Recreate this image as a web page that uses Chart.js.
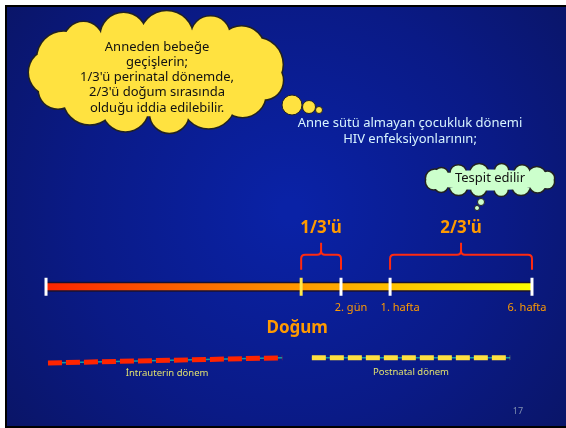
<!DOCTYPE html>
<html>
<head>
<meta charset="utf-8">
<script src="https://cdn.jsdelivr.net/npm/chart.js@4.4.0/dist/chart.umd.min.js"></script>
<style>
  html, body { margin: 0; padding: 0; background: #fff; }
  canvas { display: block; }
</style>
</head>
<body>
<canvas id="slide" width="566" height="428"></canvas>
<script>
// Timeline of mother-to-child HIV transmission (0 = start, 100 = 6. hafta)

const tickPositions = [0, 52.5, 60.7, 70.8, 100]
const tickLabels = ['', '', '2. gün', '1. hafta', '6. hafta']
const birthPosition = 52.5
const birthLabel = 'Doğum'
const shareLabels = ["1/3'ü", "2/3'ü"]
const shareRanges = [[52.5, 60.7], [70.8, 100]]
const periodLabels = ['İntrauterin dönem', 'Postnatal dönem']
const intrauterinX = [0.4, 48.6]
const intrauterinY = [15.2, 16.4]
const postnatalX = [54.7, 95.5]
const postnatalY = [16.4, 16.4]
const timelineY = 33

const cloudLines = ['Anneden bebeğe', 'geçişlerin;', "1/3'ü perinatal dönemde,", "2/3'ü doğum sırasında", 'olduğu iddia edilebilir.']
const noteLines = ['Anne sütü almayan çocukluk dönemi', 'HIV enfeksiyonlarının;']
const smallCloudText = 'Tespit edilir'
const pageNumber = '17'

const FONT = "'Comic Sans MS', 'Noto Sans', sans-serif"
const ORANGE = '#ff9a00'

const toPoints = (xs, ys) => xs.map((x, i) => ({x, y: ys[i]}))

const cloud = (c, cx, cy, rx, ry, bumps, br, fill, stroke) => {
    const circles = []
    for (let i = 0; i < bumps; i++) {
        const a = i / bumps * Math.PI * 2 + 0.2
        const r = br * (0.8 + 0.15 * (i % 3))
        circles.push([cx + Math.cos(a) * (rx - r), cy + Math.sin(a) * (ry - r)])
        circles[i].push(r)
    }
    c.lineWidth = 3
    c.strokeStyle = stroke
    circles.forEach(([x, y, r]) => { c.beginPath(); c.arc(x, y, r, 0, Math.PI * 2); c.stroke() })
    c.fillStyle = fill
    c.beginPath()
    c.ellipse(cx, cy, rx - br * 0.7, ry - br * 0.7, 0, 0, Math.PI * 2)
    circles.forEach(([x, y, r]) => { c.moveTo(x + r, y); c.arc(x, y, r, 0, Math.PI * 2) })
    c.fill()
}

const bubble = (c, x, y, r, fill, stroke) => {
    c.beginPath()
    c.arc(x, y, r, 0, Math.PI * 2)
    c.fillStyle = fill
    c.fill()
    c.lineWidth = 1
    c.strokeStyle = stroke
    c.stroke()
}

const slidePlugin = {
    id: 'slide',
    beforeDraw(chart) {
        const c = chart.ctx
        c.save()
        c.fillStyle = '#fff'
        c.fillRect(0, 0, 566, 428)
        c.fillStyle = '#000'
        c.fillRect(5, 5, 561, 423)
        const g = c.createRadialGradient(290, 210, 10, 290, 210, 380)
        g.addColorStop(0, '#0a22a6')
        g.addColorStop(0.55, '#0a1a86')
        g.addColorStop(1, '#0a1462')
        c.fillStyle = g
        c.fillRect(7, 7, 559, 419)
        c.restore()
    },
    afterDatasetsDraw(chart) {
        const c = chart.ctx
        const xs = chart.scales.x
        const ys = chart.scales.y
        const yT = ys.getPixelForValue(timelineY)
        c.save()

        // big thought cloud
        cloud(c, 157, 72, 128, 61, 15, 24, '#ffe240', '#222')
        bubble(c, 292, 105, 10, '#ffe240', '#222')
        bubble(c, 309, 107, 6.5, '#ffe240', '#222')
        bubble(c, 319, 110, 3.5, '#ffe240', '#222')
        c.fillStyle = '#111'
        c.font = `13px ${FONT}`
        c.textAlign = 'center'
        c.textBaseline = 'middle'
        cloudLines.forEach((t, i) => c.fillText(t, 157, 47 + i * 15.2))

        // note
        c.fillStyle = '#d8f4ff'
        noteLines.forEach((t, i) => c.fillText(t, 410, 123 + i * 16))

        // small cloud
        cloud(c, 490, 180, 65, 16, 16, 8, '#ccffcc', '#222')
        bubble(c, 481, 202, 3.5, '#ccffcc', '#222')
        bubble(c, 477, 208, 2.5, '#ccffcc', '#222')
        c.fillStyle = '#111'
        c.font = `13px ${FONT}`
        c.fillText(smallCloudText, 490, 178)

        // brackets and shares
        shareRanges.forEach(([a, b], i) => {
            const x1 = xs.getPixelForValue(a)
            const x2 = xs.getPixelForValue(b)
            const xm = (x1 + x2) / 2
            const yb = yT - 17, yh = yT - 32, yp = yT - 44, r = 4
            c.beginPath()
            c.moveTo(x1, yb)
            c.lineTo(x1, yh + r)
            c.quadraticCurveTo(x1, yh, x1 + r, yh)
            c.lineTo(xm - r, yh)
            c.quadraticCurveTo(xm, yh, xm, yh - r)
            c.lineTo(xm, yp)
            c.moveTo(xm, yh - r)
            c.quadraticCurveTo(xm, yh, xm + r, yh)
            c.lineTo(x2 - r, yh)
            c.quadraticCurveTo(x2, yh, x2, yh + r)
            c.lineTo(x2, yb)
            c.strokeStyle = '#ff2a10'
            c.lineWidth = 2
            c.stroke()
            c.fillStyle = ORANGE
            c.font = `bold 17px ${FONT}`
            c.fillText(shareLabels[i], xm, yT - 59)
        })

        // tick labels
        c.font = `11px ${FONT}`
        c.fillStyle = ORANGE
        tickPositions.forEach((p, i) => {
            if (tickLabels[i]) c.fillText(tickLabels[i], xs.getPixelForValue(p) + (i === 4 ? -5 : 10), yT + 21)
        })
        c.font = `bold 17px ${FONT}`
        c.fillText(birthLabel, xs.getPixelForValue(birthPosition) - 4, yT + 41)

        // period labels
        c.font = `9.5px ${FONT}`
        c.fillStyle = '#e0e070'
        c.fillText(periodLabels[0], xs.getPixelForValue((intrauterinX[0] + intrauterinX[1]) / 2) + 2, ys.getPixelForValue(intrauterinY[0]) + 10)
        c.fillText(periodLabels[1], xs.getPixelForValue((postnatalX[0] + postnatalX[1]) / 2), ys.getPixelForValue(postnatalY[0]) + 14)

        c.fillStyle = '#8090b0'
        c.font = `9px ${FONT}`
        c.fillText(pageNumber, 518, 411)
        c.restore()
    }
}

const timelineGradient = (ctx) => {
    const {chart} = ctx
    if (!chart.chartArea) return '#ff8800'
    const x0 = chart.scales.x.getPixelForValue(tickPositions[0])
    const x1 = chart.scales.x.getPixelForValue(tickPositions[tickPositions.length - 1])
    const g = chart.ctx.createLinearGradient(x0, 0, x1, 0)
    g.addColorStop(0, '#ff2400')
    g.addColorStop(0.5, '#ff9400')
    g.addColorStop(1, '#ffff00')
    return g
}

const timelineData = toPoints([tickPositions[0], tickPositions[tickPositions.length - 1]], [timelineY, timelineY])

// datasets listed top-most first (Chart.js paints the first one last)
new Chart(document.getElementById('slide'), {
    type: 'line',
    data: {
        datasets: [
            {
                data: tickPositions.map(x => ({x, y: timelineY})),
                showLine: false,
                pointStyle: 'line',
                rotation: 90,
                pointRadius: 9,
                pointBorderWidth: 3,
                pointBorderColor: ctx => ctx.dataIndex === 1 ? '#ffe84a' : '#ffffff'
            },
            { data: timelineData, borderColor: timelineGradient, borderWidth: 7, borderCapStyle: 'butt', pointRadius: 0 },
            { data: timelineData, borderColor: '#1a1030', borderWidth: 10, borderCapStyle: 'butt', pointRadius: 0 },
            { data: toPoints(intrauterinX, intrauterinY), borderColor: '#ff2400', borderWidth: 5, borderDash: [14, 4], borderCapStyle: 'butt', pointRadius: 0 },
            { data: toPoints(intrauterinX, intrauterinY), borderColor: '#10a0a0', borderWidth: 1.5, pointRadius: 0 },
            { data: toPoints(postnatalX, postnatalY), borderColor: '#ffe040', borderWidth: 5, borderDash: [14, 4], borderCapStyle: 'butt', pointRadius: 0 },
            { data: toPoints(postnatalX, postnatalY), borderColor: '#10a0a0', borderWidth: 1.5, pointRadius: 0 }
        ]
    },
    options: {
        responsive: false,
        animation: false,
        events: [],
        layout: { padding: 0, autoPadding: false },
        plugins: { legend: { display: false }, tooltip: { enabled: false } },
        scales: {
            x: { type: 'linear', display: false, min: -9.47, max: 107 },
            y: { type: 'linear', display: false, min: 0, max: 100 }
        }
    },
    plugins: [slidePlugin]
})
</script>
</body>
</html>
